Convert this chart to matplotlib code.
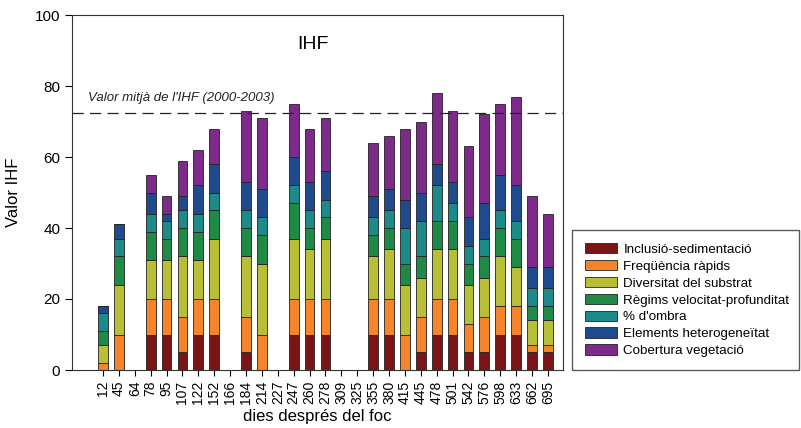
import numpy as np
import matplotlib.pyplot as plt

plt.rcParams['font.family'] = ['Liberation Sans', 'DejaVu Sans']

# days after the fire
days = ['12', '45', '64', '78', '95', '107', '122', '152', '166', '184', '214', '227',
        '247', '260', '278', '309', '325', '355', '380', '415', '445', '478', '501',
        '542', '576', '598', '633', '662', '695']

# segment heights for each component
inclusio =   [0, 0, 0, 10, 10, 5, 10, 10, 0, 5, 0, 0, 10, 10, 10, 0, 0, 10, 10, 0, 5, 10, 10, 5, 5, 10, 10, 5, 5]
frequencia = [2, 10, 0, 10, 10, 10, 10, 10, 0, 10, 10, 0, 10, 10, 10, 0, 0, 10, 10, 10, 10, 10, 10, 8, 10, 8, 8, 2, 2]
diversitat = [5, 14, 0, 11, 11, 17, 11, 17, 0, 17, 20, 0, 17, 14, 17, 0, 0, 12, 14, 14, 11, 14, 14, 11, 11, 14, 11, 7, 7]
regims =     [4, 8, 0, 8, 6, 8, 8, 8, 0, 8, 8, 0, 10, 6, 6, 0, 0, 6, 6, 6, 6, 8, 8, 6, 6, 8, 8, 4, 4]
ombra =      [5, 5, 0, 5, 5, 5, 5, 5, 0, 5, 5, 0, 5, 5, 5, 0, 0, 5, 5, 10, 10, 10, 5, 5, 5, 5, 5, 5, 5]
elements =   [2, 4, 0, 6, 2, 4, 8, 8, 0, 8, 8, 0, 8, 8, 8, 0, 0, 6, 6, 8, 8, 6, 6, 8, 10, 10, 10, 6, 6]
cobertura =  [0, 0, 0, 5, 5, 10, 10, 10, 0, 20, 20, 0, 15, 15, 15, 0, 0, 15, 15, 20, 20, 20, 20, 20, 25, 20, 25, 20, 15]

labels = ['Inclusió-sedimentació', 'Freqüència ràpids', 'Diversitat del substrat',
          'Règims velocitat-profunditat', "% d'ombra", 'Elements heterogeneïtat',
          'Cobertura vegetació']
colors = ['#7B1416', '#F5842A', '#B8BE36', '#1F8A45', '#1C8A88', '#1F4A8E', '#7E2A8A']

mean_ihf = 72.5

series = [inclusio, frequencia, diversitat, regims, ombra, elements, cobertura]

fig = plt.figure(figsize=(8.01, 4.28), dpi=100)
ax = fig.add_axes([72 / 801, 58 / 428, 491 / 801, 355 / 428])

x = np.arange(len(days))
bottom = np.zeros(len(days))
for vals, lab, col in zip(series, labels, colors):
    ax.bar(x, vals, 0.62, bottom=bottom, color=col, edgecolor='#222222',
           linewidth=0.6, label=lab)
    bottom += np.array(vals)

ax.axhline(mean_ihf, color='#222222', linestyle=(0, (9, 5)), linewidth=0.9)
ax.text(-0.95, mean_ihf + 2.5, "Valor mitjà de l'IHF (2000-2003)", fontsize=9.5,
        style='italic', va='bottom', ha='left', color='#222222')
ax.text(0.49, 0.94, 'IHF', transform=ax.transAxes, ha='center', va='top', fontsize=14)

ax.set_xlim(-1.95, 28.95)
ax.set_ylim(0, 100)
ax.set_xticks(x)
ax.set_xticklabels(days, rotation=90, fontsize=10)
ax.set_yticks([0, 20, 40, 60, 80, 100])
ax.tick_params(axis='y', labelsize=11, direction='out', length=5)
ax.tick_params(axis='x', direction='out', length=4)
ax.set_xlabel('dies després del foc', fontsize=12)
ax.set_ylabel('Valor IHF', fontsize=12, labelpad=10)
for s in ax.spines.values():
    s.set_color('#333333')
    s.set_linewidth(0.8)

fig.legend(loc='lower left', bbox_to_anchor=(572 / 801, 58 / 428, 227 / 801, 146 / 428),
           mode='expand', fontsize=9.6, frameon=True, fancybox=False, edgecolor='#333333',
           handlelength=2.4, handleheight=0.85, handletextpad=0.5, labelspacing=0.3,
           borderpad=0.95, borderaxespad=0.0)

fig.savefig('out.png', dpi=100)
